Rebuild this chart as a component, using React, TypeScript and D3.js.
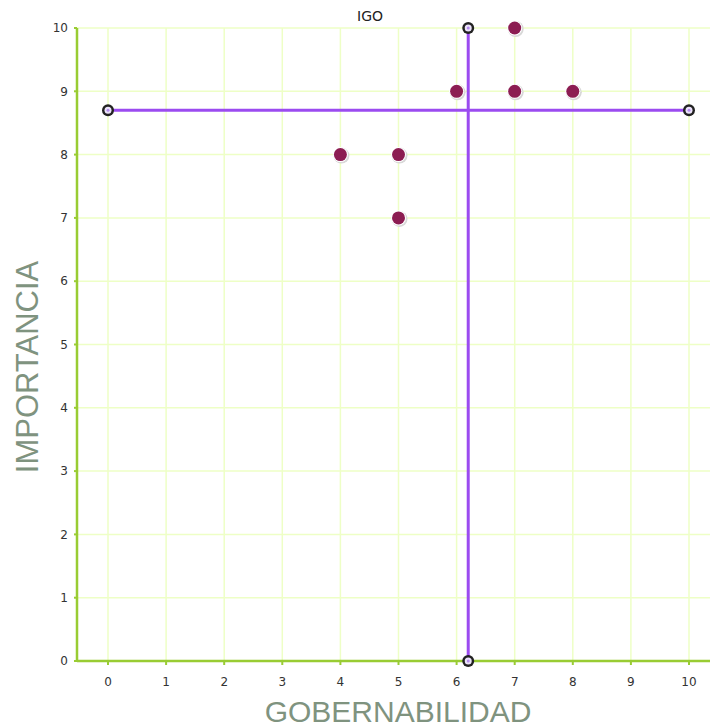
import React from "react";
import * as d3 from "d3";

const title = "IGO";
const xLabel = "GOBERNABILIDAD";
const yLabel = "IMPORTANCIA";
const xTicks = [0, 1, 2, 3, 4, 5, 6, 7, 8, 9, 10];
const yTicks = [0, 1, 2, 3, 4, 5, 6, 7, 8, 9, 10];
const pointsX = [6, 7, 7, 8, 4, 5, 5];
const pointsY = [9, 10, 9, 9, 8, 8, 7];
const vLineX = [6.2, 6.2];
const vLineY = [0, 10];
const hLineX = [0, 10];
const hLineY = [8.7, 8.7];

const W = 710;
const H = 728;

export default function App() {
  const x = d3.scaleLinear().domain([0, 10]).range([108, 689]);
  const y = d3.scaleLinear().domain([0, 10]).range([661, 28]);
  const axisLeft = 77;
  const axisRight = 710;
  const top = 28;
  const bottom = 661;
  const line = d3.line<[number, number]>().x((d) => x(d[0])).y((d) => y(d[1]));
  const vData: [number, number][] = vLineX.map((v, i) => [v, vLineY[i]]);
  const hData: [number, number][] = hLineX.map((v, i) => [v, hLineY[i]]);
  const font = "Verdana, 'DejaVu Sans', sans-serif";
  const labelFont = "'Liberation Sans', Arial, sans-serif";
  const marker = (px: number, py: number, k: string) => (
    <g key={k}>
      <circle cx={px} cy={py} r={6} fill="#222" />
      <circle cx={px} cy={py} r={3.5} fill="#ece4fa" />
      <circle cx={px} cy={py} r={1.5} fill="#b58cf0" />
    </g>
  );
  return (
    <svg width={W} height={H} style={{ position: "absolute", left: 0, top: 0, background: "#fff" }}>
      {/* grid */}
      {xTicks.map((t) => (
        <line key={"gx" + t} x1={x(t)} x2={x(t)} y1={top} y2={bottom} stroke="#eeffc6" strokeWidth={1.5} />
      ))}
      {yTicks.map((t) => (
        <line key={"gy" + t} x1={axisLeft} x2={axisRight} y1={y(t)} y2={y(t)} stroke="#eeffc6" strokeWidth={1.5} />
      ))}
      {/* axes */}
      <line x1={axisLeft} x2={axisLeft} y1={top} y2={bottom} stroke="#99cc33" strokeWidth={2.5} />
      <line x1={axisLeft} x2={axisRight} y1={bottom} y2={bottom} stroke="#99cc33" strokeWidth={2.5} />
      {yTicks.map((t) => (
        <g key={"ty" + t}>
          <line x1={axisLeft - 3} x2={axisLeft} y1={y(t)} y2={y(t)} stroke="#99cc33" strokeWidth={2} />
          <text x={68} y={y(t)} dy="0.35em" textAnchor="end" fontSize={12} fill="#333" fontFamily={font}>
            {t}
          </text>
        </g>
      ))}
      {xTicks.map((t) => (
        <g key={"tx" + t}>
          <line x1={x(t)} x2={x(t)} y1={bottom} y2={bottom + 4} stroke="#99cc33" strokeWidth={2} />
          <text x={x(t)} y={682} dy="0.35em" textAnchor="middle" fontSize={12} fill="#333" fontFamily={font}>
            {t}
          </text>
        </g>
      ))}
      {/* title and labels */}
      <text x={370} y={16} dy="0.35em" textAnchor="middle" fontSize={14} fill="#222" fontFamily={font}>
        {title}
      </text>
      <text x={398} y={722} textAnchor="middle" fontSize={30} fill="#7f937f" fontFamily={labelFont}>
        {xLabel}
      </text>
      <text
        transform={`translate(38,367) rotate(-90)`}
        textAnchor="middle"
        fontSize={31}
        fill="#7f937f"
        fontFamily={labelFont}
      >
        {yLabel}
      </text>
      {/* lines */}
      <path d={line(vData) || ""} stroke="#9b4bf0" strokeWidth={3} fill="none" />
      <path d={line(hData) || ""} stroke="#9b4bf0" strokeWidth={3} fill="none" />
      {vData.map((d, i) => marker(x(d[0]), y(d[1]), "v" + i))}
      {hData.map((d, i) => marker(x(d[0]), y(d[1]), "h" + i))}
      {/* points */}
      {pointsX.map((px, i) => (
        <g key={"p" + i}>
          <circle cx={x(px) + 1} cy={y(pointsY[i]) + 1} r={8} fill="#d8d8d8" />
          <circle cx={x(px)} cy={y(pointsY[i])} r={7.5} fill="#fff" />
          <circle cx={x(px)} cy={y(pointsY[i])} r={6.5} fill="#8c1d52" />
        </g>
      ))}
    </svg>
  );
}
